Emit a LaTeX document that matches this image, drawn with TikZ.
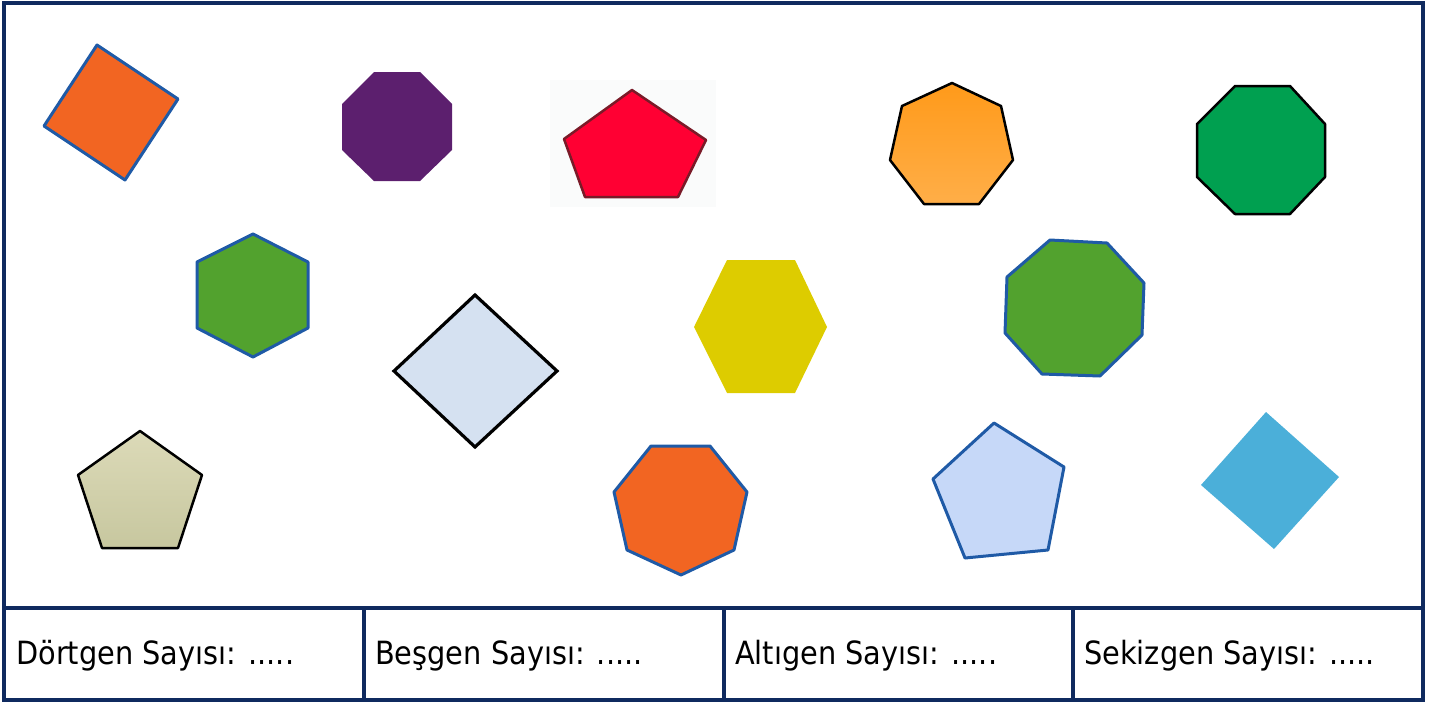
\documentclass[tikz,border=0pt]{standalone}
\usepackage{fontspec}
\setmainfont[FakeStretch=0.9]{DejaVu Sans}
\definecolor{frame}{HTML}{0F2A5F}
\definecolor{bordblue}{HTML}{1F5AA6}
\definecolor{orng}{HTML}{F26522}
\definecolor{purp}{HTML}{5C1F6E}
\definecolor{redf}{HTML}{FF0033}
\definecolor{redb}{HTML}{7A1A28}
\definecolor{dgreen}{HTML}{00A050}
\definecolor{lgreen}{HTML}{52A22E}
\definecolor{yell}{HTML}{DDCC00}
\definecolor{paleblue}{HTML}{D5E1F1}
\definecolor{beigeT}{HTML}{DCDAB8}
\definecolor{beigeB}{HTML}{C7C79F}
\definecolor{orT}{HTML}{FF9A1A}
\definecolor{orB}{HTML}{FFAE48}
\definecolor{pent}{HTML}{C6D8F8}
\definecolor{cyanf}{HTML}{4BAFD9}
\begin{document}
\begin{tikzpicture}[x=1pt,y=-1pt,
  framestyle/.style={draw=frame,line width=3.6pt},
  bshape/.style={draw=bordblue,line width=3pt,line join=round},
  kshape/.style={draw=black,line width=2.5pt,line join=round},
  lbl/.style={anchor=base west,inner sep=0pt,font=\fontsize{32}{38}\selectfont}]
\useasboundingbox (0,0) rectangle (1443,702);
% shapes
\draw[bshape,fill=orng] (97,45) -- (178,99) -- (125,180) -- (44,126) -- cycle;
\fill[purp] (374,72) -- (420,72) -- (452,104) -- (452,150) -- (420,181) -- (374,181) -- (342,150) -- (342,104) -- cycle;
\fill[fill={rgb,255:red,250;green,251;blue,251}] (550,80) rectangle (716,207);
\draw[draw=redb,line width=2.5pt,line join=round,fill=redf] (632,90) -- (706,140) -- (678,197) -- (585,197) -- (564,139) -- cycle;
\draw[kshape,top color=orT,bottom color=orB] (952,83) -- (1001,106) -- (1013,160) -- (979,204) -- (924,204) -- (890,160) -- (902,106) -- cycle;
\draw[kshape,fill=dgreen] (1235,86) -- (1290,86) -- (1325,124) -- (1325,177) -- (1290,214) -- (1235,214) -- (1197,177) -- (1197,124) -- cycle;
\draw[bshape,fill=lgreen] (253,234) -- (308,262) -- (308,328) -- (253,357) -- (197,328) -- (197,262) -- cycle;
\draw[draw=black,line width=3.2pt,line join=miter,fill=paleblue] (475,295) -- (557,371) -- (475,447) -- (394,371) -- cycle;
\fill[yell] (727,260) -- (795,260) -- (827,327) -- (795,393) -- (727,393) -- (694,327) -- cycle;
\draw[bshape,fill=lgreen] (1050,240) -- (1107,243) -- (1144,283) -- (1142,335) -- (1100,376) -- (1042,374) -- (1005,333) -- (1007,277) -- cycle;
\draw[kshape,top color=beigeT,bottom color=beigeB] (140,431) -- (202,475) -- (178,548) -- (102,548) -- (78,475) -- cycle;
\draw[bshape,fill=orng] (651,446) -- (710,446) -- (747,492) -- (734,550) -- (681,575) -- (627,550) -- (614,492) -- cycle;
\draw[bshape,fill=pent] (994,423) -- (1064,467) -- (1048,550) -- (965,558) -- (933,479) -- cycle;
\fill[cyanf] (1266,412) -- (1339,477) -- (1274,549) -- (1201,485) -- cycle;
% table frame
\draw[framestyle] (4,3) rectangle (1423,700);
\draw[framestyle] (4,608) -- (1423,608);
\draw[framestyle] (364,608) -- (364,700);
\draw[framestyle] (724,608) -- (724,700);
\draw[framestyle] (1073,608) -- (1073,700);
% labels
\node[lbl] (d) at (16,664) {Dörtgen Sayısı: .....};
\node[lbl] (b) at (375,664) {Beşgen Sayısı: .....};
\node[lbl] (a) at (735,664) {Altıgen Sayısı: .....};
\node[lbl] (s) at (1084,664) {Sekizgen Sayısı: .....};
\end{tikzpicture}
\end{document}
